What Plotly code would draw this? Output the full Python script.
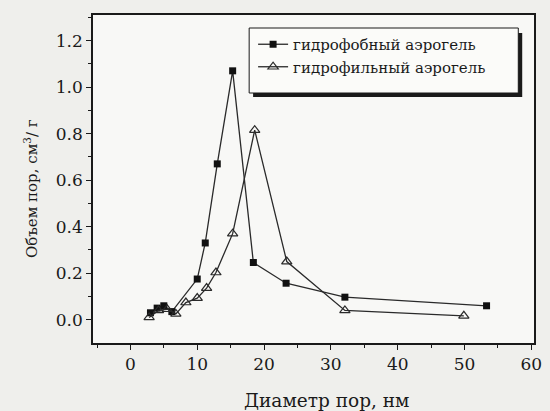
import plotly.graph_objects as go

# Data
phobic_x = [3.0, 4.0, 5.0, 6.2, 10.0, 11.2, 13.0, 15.3, 18.4, 23.3, 32.1, 53.3]
phobic_y = [0.03, 0.05, 0.06, 0.035, 0.175, 0.33, 0.67, 1.07, 0.246, 0.157, 0.097, 0.06]

philic_x = [2.8, 4.2, 5.5, 6.8, 8.3, 10.0, 11.4, 12.8, 15.3, 18.6, 23.4, 32.1, 49.9]
philic_y = [0.01, 0.04, 0.045, 0.025, 0.074, 0.093, 0.136, 0.203, 0.37, 0.815, 0.25, 0.04, 0.017]

name_phobic = "гидрофобный аэрогель"
name_philic = "гидрофильный аэрогель"
x_title = "Диаметр пор, нм"
y_title = "Объем пор, см<sup>3</sup>/ г"

FONT = "DejaVu Serif"
INK = "#1a1a1a"

L, R, T, B = 93, 8, 15, 68
PW, PH = 550 - L - R, 411 - T - B

def px2paper(x, y):
    return (x - L) / PW, (411 - B - y) / PH

fig = go.Figure()
fig.add_trace(go.Scatter(
    x=phobic_x, y=phobic_y, mode="lines+markers", name=name_phobic,
    line=dict(color="#2a2a2a", width=1.3),
    marker=dict(symbol="square", size=7, color="#111111"),
))
fig.add_trace(go.Scatter(
    x=philic_x, y=philic_y, mode="lines+markers", name=name_philic,
    line=dict(color="#2a2a2a", width=1.3),
    marker=dict(symbol="triangle-up-open", size=9, color="#2a2a2a", line=dict(width=1.2)),
))

axis_common = dict(
    showline=True, linecolor=INK, linewidth=1.5, mirror=True,
    ticks="outside", ticklen=5, tickwidth=1.3, tickcolor=INK,
    showgrid=False, zeroline=False,
    tickfont=dict(family=FONT, size=17, color=INK),
)

# legend frame with shadow (thick right/bottom edge)
sx0, sy0 = px2paper(256, 97)
sx1, sy1 = px2paper(530, 33)
fig.add_shape(type="rect", xref="paper", yref="paper", x0=sx0, y0=sy0, x1=sx1, y1=sy1,
              fillcolor=INK, line=dict(width=0), layer="above")
bx0, by0 = px2paper(252, 93)
bx1, by1 = px2paper(526, 28)
fig.add_shape(type="rect", xref="paper", yref="paper", x0=bx0, y0=by0, x1=bx1, y1=by1,
              fillcolor="#fbfbf9", line=dict(width=1, color=INK), layer="above")

# axis titles
tx, ty = px2paper(331, 400)
fig.add_annotation(text=x_title, xref="paper", yref="paper", x=tx, y=ty,
                   showarrow=False, xanchor="center", yanchor="middle",
                   font=dict(family=FONT, size=18.5, color=INK))
ax_, ay_ = px2paper(30, 189)
fig.add_annotation(text=y_title, xref="paper", yref="paper", x=ax_, y=ay_,
                   showarrow=False, xanchor="center", yanchor="middle", textangle=-90,
                   font=dict(family=FONT, size=15, color=INK))

lx, ly = px2paper(256, 28)
fig.update_layout(
    width=550, height=411,
    margin=dict(l=L, r=R, t=T, b=B),
    paper_bgcolor="#efefec",
    plot_bgcolor="#f8f8f6",
    font=dict(family=FONT, color=INK),
    xaxis=dict(
        range=[-5.6, 60.4], tickvals=[0, 10, 20, 30, 40, 50, 60],
        minor=dict(tickvals=[-5, 5, 15, 25, 35, 45, 55], ticks="outside", ticklen=3, tickcolor=INK),
        **axis_common,
    ),
    yaxis=dict(
        range=[-0.1, 1.31], tickvals=[0.0, 0.2, 0.4, 0.6, 0.8, 1.0, 1.2],
        ticktext=["0.0", "0.2", "0.4", "0.6", "0.8", "1.0", "1.2"],
        minor=dict(tickvals=[0.1, 0.3, 0.5, 0.7, 0.9, 1.1, 1.3], ticks="outside", ticklen=3, tickcolor=INK),
        **axis_common,
    ),
    legend=dict(
        x=lx, y=ly, xanchor="left", yanchor="top",
        bgcolor="rgba(0,0,0,0)", borderwidth=0,
        font=dict(family=FONT, size=15, color=INK),
        itemwidth=30, tracegroupgap=0,
    ),
)

fig.write_html("out.html")
